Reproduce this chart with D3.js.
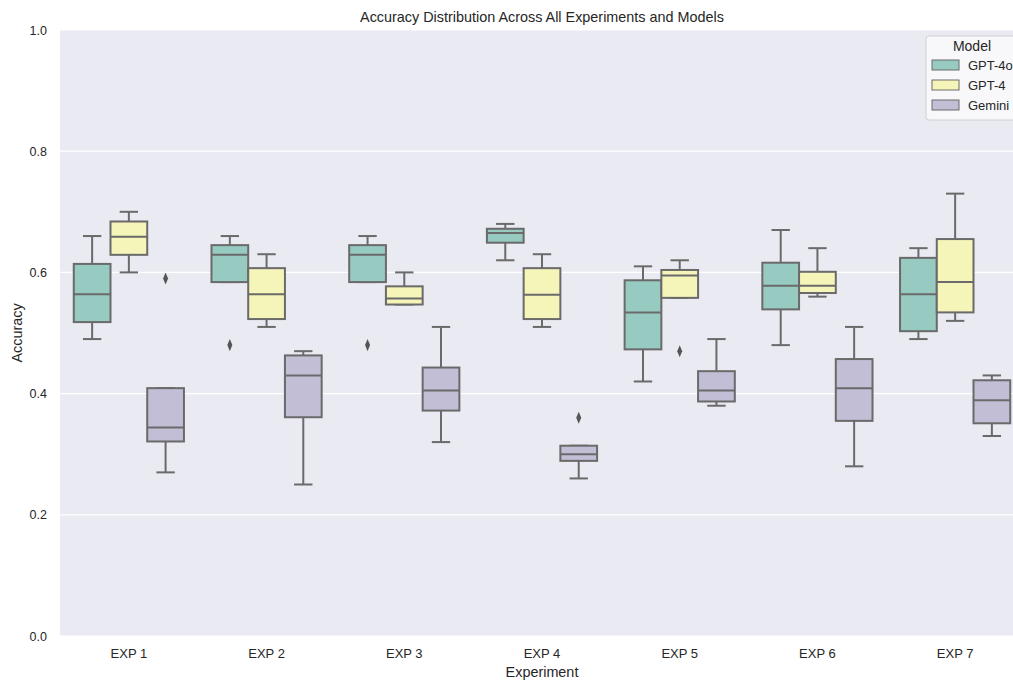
<!DOCTYPE html>
<html><head><meta charset="utf-8">
<script src="https://cdn.jsdelivr.net/npm/d3@7"></script>
<style>
html,body{margin:0;padding:0;background:#fff;}
text{font-family:"Liberation Sans",Arial,sans-serif;}
</style></head>
<body><svg id="chart" width="1013" height="680"></svg>
<script>
const experiments = ["EXP 1","EXP 2","EXP 3","EXP 4","EXP 5","EXP 6","EXP 7"];
const models = ["GPT-4o","GPT-4","Gemini"];
const yTicks = [0.0,0.2,0.4,0.6,0.8,1.0];
// box stats per model, one entry per experiment: [whiskerLow, q1, median, q3, whiskerHigh]
const gpt4oStats = [
  [0.49,0.518,0.564,0.614,0.66],
  [0.584,0.584,0.629,0.645,0.66],
  [0.584,0.584,0.629,0.645,0.66],
  [0.62,0.649,0.665,0.672,0.68],
  [0.42,0.473,0.534,0.587,0.61],
  [0.48,0.539,0.578,0.616,0.67],
  [0.49,0.503,0.564,0.624,0.64]
];
const gpt4Stats = [
  [0.60,0.629,0.659,0.684,0.70],
  [0.51,0.523,0.564,0.607,0.63],
  [0.547,0.547,0.557,0.577,0.60],
  [0.51,0.523,0.563,0.607,0.63],
  [0.558,0.558,0.595,0.604,0.62],
  [0.56,0.566,0.578,0.601,0.64],
  [0.52,0.534,0.584,0.655,0.73]
];
const geminiStats = [
  [0.27,0.321,0.344,0.409,0.409],
  [0.25,0.361,0.430,0.463,0.47],
  [0.32,0.372,0.405,0.443,0.51],
  [0.26,0.289,0.300,0.314,0.314],
  [0.38,0.387,0.405,0.437,0.49],
  [0.28,0.355,0.409,0.457,0.51],
  [0.33,0.351,0.389,0.422,0.43]
];
const gpt4oOutliers = [[],[0.48],[0.48],[],[],[],[]];
const gpt4Outliers = [[],[],[],[],[0.47],[],[]];
const geminiOutliers = [[0.59],[],[],[0.36],[],[],[]];
const colors = ["#97cbc1","#f5f5b9","#c1bed6"];

const stats = [gpt4oStats, gpt4Stats, geminiStats];
const outliers = [gpt4oOutliers, gpt4Outliers, geminiOutliers];

const svg = d3.select("#chart");
const L = 60, R = 1024, T = 30, B = 636;
const x = d3.scaleBand().domain(experiments).range([L, R]).padding(0);
const bw = x.bandwidth();
const xs = d3.scaleBand().domain(models).range([bw*0.1, bw*0.9]).padding(0);
const y = d3.scaleLinear().domain([0,1]).range([B, T]);

svg.append("rect").attr("x",L).attr("y",T).attr("width",R-L).attr("height",B-T).attr("fill","#eaeaf2");

// grid
svg.append("g").selectAll("line").data(yTicks).join("line")
  .attr("x1",L).attr("x2",R).attr("y1",d=>y(d)).attr("y2",d=>y(d))
  .attr("stroke","#fff").attr("stroke-width",1.2);

// y axis
const yAxis = d3.axisLeft(y).tickValues(yTicks).tickFormat(d3.format(".1f")).tickSize(0).tickPadding(13);
const gy = svg.append("g").attr("transform",`translate(${L},0)`).call(yAxis);
gy.select(".domain").remove();
gy.selectAll("text").attr("font-size",12.5).attr("fill","#262626");

// x axis
const xAxis = d3.axisBottom(x).tickSize(0).tickPadding(13);
const gx = svg.append("g").attr("transform",`translate(0,${B})`).call(xAxis);
gx.select(".domain").remove();
gx.selectAll("text").attr("font-size",13).attr("fill","#262626");

const edge = "#6a6a6a", lw = 2;
const g = svg.append("g");
models.forEach((m, mi) => {
  experiments.forEach((e, ei) => {
    const [lo, q1, med, q3, hi] = stats[mi][ei];
    const x0 = x(e) + xs(m), w = xs.bandwidth(), cx = x0 + w/2;
    const gg = g.append("g");
    gg.append("line").attr("x1",cx).attr("x2",cx).attr("y1",y(q3)).attr("y2",y(hi)).attr("stroke",edge).attr("stroke-width",lw);
    gg.append("line").attr("x1",cx).attr("x2",cx).attr("y1",y(q1)).attr("y2",y(lo)).attr("stroke",edge).attr("stroke-width",lw);
    gg.append("line").attr("x1",cx-w/4).attr("x2",cx+w/4).attr("y1",y(hi)).attr("y2",y(hi)).attr("stroke",edge).attr("stroke-width",lw);
    gg.append("line").attr("x1",cx-w/4).attr("x2",cx+w/4).attr("y1",y(lo)).attr("y2",y(lo)).attr("stroke",edge).attr("stroke-width",lw);
    gg.append("rect").attr("x",x0).attr("y",y(q3)).attr("width",w).attr("height",y(q1)-y(q3))
      .attr("fill",colors[mi]).attr("stroke",edge).attr("stroke-width",lw);
    gg.append("line").attr("x1",x0).attr("x2",x0+w).attr("y1",y(med)).attr("y2",y(med)).attr("stroke",edge).attr("stroke-width",lw);
    outliers[mi][ei].forEach(v => {
      gg.append("path").attr("d", d3.symbol(d3.symbolDiamond, 42)())
        .attr("transform",`translate(${cx},${y(v)}) scale(0.72,1)`).attr("fill","#555");
    });
  });
});

// title and labels
svg.append("text").attr("x",(L+R)/2).attr("y",22).attr("text-anchor","middle").attr("font-size",14.4).attr("fill","#262626").text("Accuracy Distribution Across All Experiments and Models");
svg.append("text").attr("x",(L+R)/2).attr("y",677).attr("text-anchor","middle").attr("font-size",14.4).attr("fill","#262626").text("Experiment");
svg.append("text").attr("transform",`translate(22,${(T+B)/2}) rotate(-90)`).attr("text-anchor","middle").attr("font-size",14.4).attr("fill","#262626").text("Accuracy");

// legend
const lg = svg.append("g").attr("transform","translate(926,36)");
lg.append("rect").attr("x",0).attr("y",0).attr("width",97).attr("height",84).attr("rx",3)
  .attr("fill","#f8f8fb").attr("stroke","#d0d0d0").attr("stroke-width",1);
lg.append("text").attr("x",46).attr("y",15).attr("text-anchor","middle").attr("font-size",14).attr("fill","#262626").text("Model");
models.forEach((m, i) => {
  lg.append("rect").attr("x",6).attr("y",24+i*20).attr("width",27).attr("height",10)
    .attr("fill",colors[i]).attr("stroke",edge).attr("stroke-width",1);
  lg.append("text").attr("x",42).attr("y",33.5+i*20).attr("font-size",13).attr("fill","#262626").text(m);
});
</script></body></html>
